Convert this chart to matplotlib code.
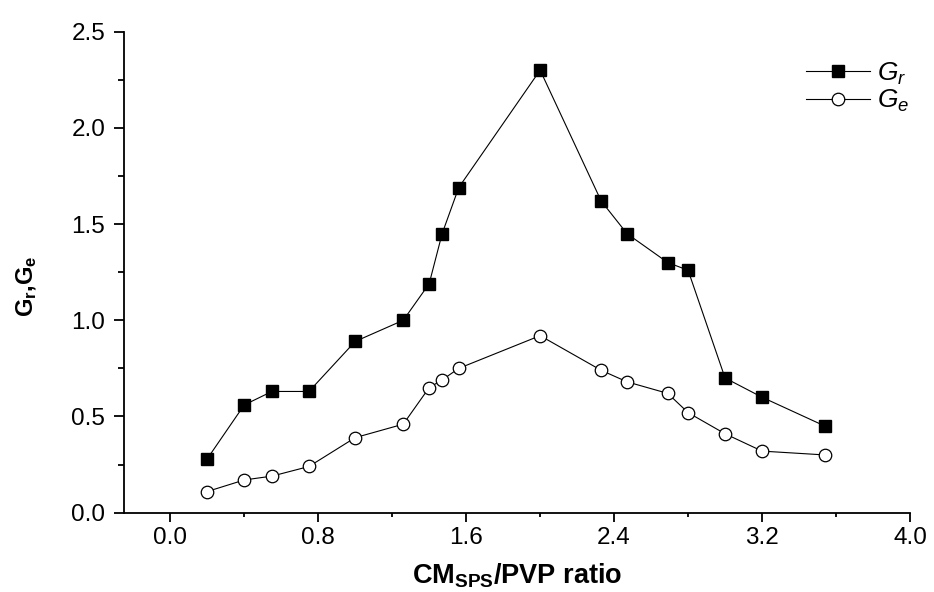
import matplotlib
matplotlib.use("Agg")
import matplotlib.pyplot as plt
from matplotlib.ticker import MultipleLocator

plt.rcParams['font.family'] = ['Liberation Sans', 'DejaVu Sans']
plt.rcParams['mathtext.fontset'] = 'custom'
plt.rcParams['mathtext.rm'] = 'Liberation Sans'
plt.rcParams['mathtext.it'] = 'Liberation Sans:italic'
plt.rcParams['mathtext.bf'] = 'Liberation Sans:bold'

# CM/PVP ratio
ratio = [0.2, 0.4, 0.55, 0.75, 1.0, 1.26, 1.4, 1.47, 1.56, 2.0,
         2.33, 2.47, 2.69, 2.8, 3.0, 3.2, 3.54]
g_r = [0.28, 0.56, 0.63, 0.63, 0.89, 1.00, 1.19, 1.45, 1.69, 2.30,
       1.62, 1.45, 1.30, 1.26, 0.70, 0.60, 0.45]
g_e = [0.11, 0.17, 0.19, 0.24, 0.39, 0.46, 0.65, 0.69, 0.75, 0.92,
       0.74, 0.68, 0.62, 0.52, 0.41, 0.32, 0.30]

fig = plt.figure(figsize=(9.34, 5.92), dpi=100)
ax = fig.add_axes([0.1328, 0.134, 0.8415, 0.8125])

ax.plot(ratio, g_r, color='black', lw=0.8, marker='s', ms=8.5,
        mfc='black', mec='black', label=r'$G_r$')
ax.plot(ratio, g_e, color='black', lw=0.8, marker='o', ms=9,
        mfc='white', mec='black', mew=0.9, label=r'$G_e$')

ax.set_xlim(-0.25, 4.0)
ax.set_ylim(0, 2.5)
ax.xaxis.set_major_locator(MultipleLocator(0.8))
ax.xaxis.set_minor_locator(MultipleLocator(0.4))
ax.yaxis.set_major_locator(MultipleLocator(0.5))
ax.yaxis.set_minor_locator(MultipleLocator(0.25))
ax.xaxis.set_major_formatter(lambda v, p: f'{v:.1f}')
ax.yaxis.set_major_formatter(lambda v, p: f'{v:.1f}')

for s in ['top', 'right']:
    ax.spines[s].set_visible(False)
for s in ['left', 'bottom']:
    ax.spines[s].set_linewidth(1.3)

ax.tick_params(which='major', direction='out', length=7.5, width=1.3, labelsize=17.5)
ax.tick_params(which='minor', direction='out', length=4, width=1.3)
ax.tick_params(axis='x', which='major', length=6.5, pad=4)
ax.tick_params(axis='x', which='minor', length=3)
ax.tick_params(axis='y', pad=6)

ax.set_xlabel(r'CM$_{\mathbf{SPS}}$/PVP ratio', fontsize=19.5, fontweight='bold', labelpad=9)
ax.set_ylabel(r'G$_{\mathbf{r}}$,G$_{\mathbf{e}}$', fontsize=17, fontweight='bold')
ax.yaxis.set_label_coords(-0.108, 0.47)

ax.legend(loc='upper left', bbox_to_anchor=(0.868, 0.94), frameon=False, fontsize=19,
          handlelength=2.4, handletextpad=0.3, labelspacing=0.05,
          borderpad=0, borderaxespad=0)

fig.savefig('out.png', dpi=100)
